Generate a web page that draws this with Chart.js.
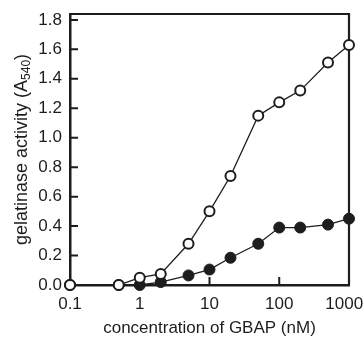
<!DOCTYPE html>
<html>
<head>
<meta charset="utf-8">
<script src="https://cdn.jsdelivr.net/npm/chart.js@4/dist/chart.umd.min.js"></script>
<style>
  html, body { margin: 0; padding: 0; background: #fff; }
  #wrap { width: 363px; height: 337px; position: relative; }
</style>
</head>
<body>
<div id="wrap"><canvas id="chart"></canvas></div>
<script>
// concentration of GBAP (nM) and gelatinase activity
const concentrations = [0.1, 0.5, 1, 2, 5, 10, 20, 50, 100, 200, 500, 1000];
const openSeries = [0.0, 0.0, 0.05, 0.075, 0.28, 0.50, 0.74, 1.15, 1.24, 1.32, 1.51, 1.63];
const filledSeries = [0.0, 0.0, 0.0, 0.02, 0.065, 0.105, 0.185, 0.28, 0.39, 0.39, 0.41, 0.45];

const xTicks = [0.1, 1, 10, 100, 1000];
// trailing spaces nudge the last label left so it stays inside the page, as printed
const xTickLabels = ["0.1", "1", "10", "100", "1000  "];
const yTicks = [0, 0.2, 0.4, 0.6, 0.8, 1.0, 1.2, 1.4, 1.6, 1.8];

const ink = "#1e1c1d";
const family = "'Liberation Sans', Arial, Helvetica, sans-serif";

const toPoints = (ys) => concentrations.map((x, i) => ({ x: x, y: ys[i] }));

// top/right frame + inward tick marks, like the printed figure
const framePlugin = {
  id: "frame",
  beforeDatasetsDraw(chart) {
    const { ctx, chartArea: a, scales } = chart;
    ctx.save();
    ctx.strokeStyle = ink;
    ctx.lineWidth = 2.2;
    ctx.beginPath();
    ctx.moveTo(a.left, a.top);
    ctx.lineTo(a.right, a.top);
    ctx.lineTo(a.right, a.bottom);
    ctx.stroke();

    ctx.lineWidth = 2;
    ctx.beginPath();
    scales.y.ticks.forEach((t) => {
      const py = scales.y.getPixelForValue(t.value);
      ctx.moveTo(a.left, py);
      ctx.lineTo(a.left + 8, py);
    });
    scales.x.ticks.forEach((t) => {
      const px = scales.x.getPixelForValue(t.value);
      ctx.moveTo(px, a.bottom);
      ctx.lineTo(px, a.bottom - 8);
    });
    ctx.stroke();
    ctx.restore();
  },
  afterDraw(chart) {
    // y title with subscript 540
    const { ctx, chartArea: a } = chart;
    const big = "18px " + family;
    const small = "12px " + family;
    const parts = [
      { t: "gelatinase activity (A", f: big, dy: 0 },
      { t: "540", f: small, dy: 3 },
      { t: ")", f: big, dy: 0 },
    ];
    ctx.save();
    let total = 0;
    parts.forEach((p) => { ctx.font = p.f; p.w = ctx.measureText(p.t).width; total += p.w; });
    ctx.translate(27, (a.top + a.bottom) / 2);
    ctx.rotate(-Math.PI / 2);
    ctx.fillStyle = ink;
    ctx.textBaseline = "alphabetic";
    ctx.textAlign = "left";
    let x = -total / 2;
    parts.forEach((p) => {
      ctx.font = p.f;
      ctx.fillText(p.t, x, p.dy);
      x += p.w;
    });
    ctx.restore();
  },
};

const chart = new Chart(document.getElementById("chart"), {
  type: "line",
  data: {
    datasets: [
      {
        label: "open",
        data: toPoints(openSeries),
        borderColor: ink,
        borderWidth: 1.3,
        pointRadius: 5,
        pointBorderWidth: 2,
        pointBorderColor: ink,
        pointBackgroundColor: "#fff",
        tension: 0,
        clip: false,
      },
      {
        label: "filled",
        data: toPoints(filledSeries),
        borderColor: ink,
        borderWidth: 1.3,
        pointRadius: 5.5,
        pointBorderWidth: 1,
        pointBorderColor: ink,
        pointBackgroundColor: ink,
        tension: 0,
        clip: false,
      },
    ],
  },
  options: {
    responsive: true,
    maintainAspectRatio: false,
    animation: false,
    events: [],
    layout: { padding: { left: 0, top: 14, right: 14, bottom: 0 } },
    plugins: { legend: { display: false }, tooltip: { enabled: false } },
    scales: {
      x: {
        type: "logarithmic",
        min: 0.1,
        max: 1000,
        afterBuildTicks: (scale) => { scale.ticks = xTicks.map((v) => ({ value: v })); },
        afterFit: (scale) => { scale.height = 52; scale.paddingLeft = 0; scale.paddingRight = 0; },
        grid: { display: false, drawTicks: false },
        border: { display: true, color: ink, width: 2.5 },
        ticks: {
          color: ink,
          font: { family: family, size: 17 },
          padding: 9,
          maxRotation: 0,
          autoSkip: false,
          callback: (value, index) => xTickLabels[index],
        },
        title: {
          display: true,
          text: "concentration of GBAP (nM)",
          color: ink,
          font: { family: family, size: 17 },
          padding: { top: 0, bottom: -2 },
        },
      },
      y: {
        min: 0,
        max: 1.84,
        afterBuildTicks: (scale) => { scale.ticks = yTicks.map((v) => ({ value: v })); },
        afterFit: (scale) => { scale.width = 70; scale.paddingTop = 0; scale.paddingBottom = 0; },
        grid: { display: false, drawTicks: false },
        border: { display: true, color: ink, width: 2.5 },
        ticks: {
          color: ink,
          font: { family: family, size: 17 },
          padding: 8,
          callback: (value) => Number(value).toFixed(1),
        },
      },
    },
  },
  plugins: [framePlugin],
});
</script>
</body>
</html>
